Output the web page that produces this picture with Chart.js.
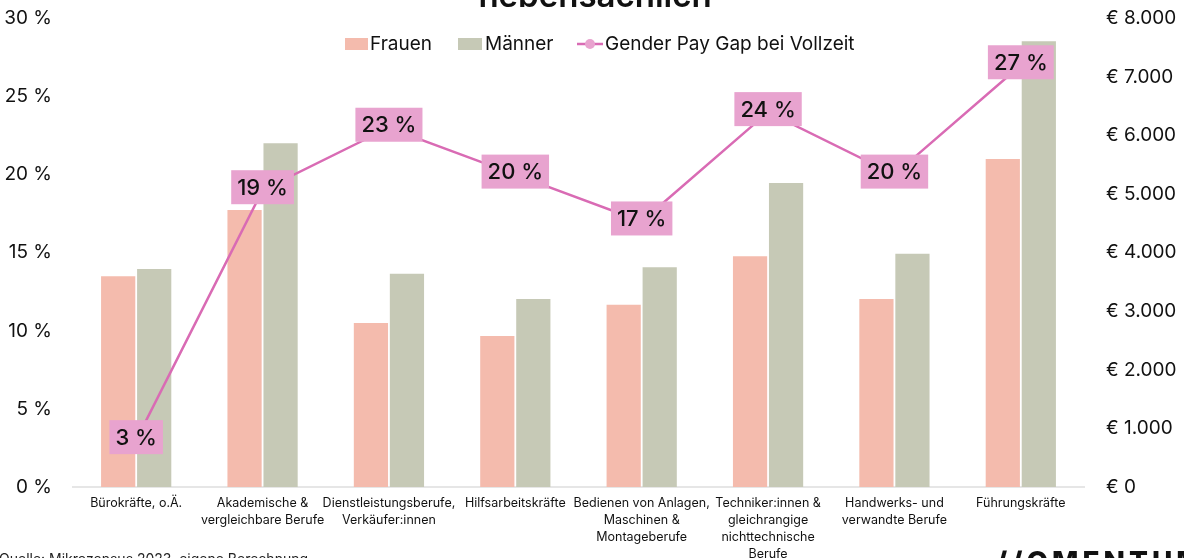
<!DOCTYPE html>
<html>
<head>
<meta charset="utf-8">
<script src="https://cdn.jsdelivr.net/npm/chart.js@4/dist/chart.umd.min.js"></script>
<style>
  html, body { margin: 0; padding: 0; background: #ffffff; overflow: hidden; }
  #wrap { width: 1184px; height: 558px; position: relative; }
</style>
</head>
<body>
<div id="wrap"><canvas id="c" width="1184" height="558"></canvas></div>
<script>
const categories = [
  ["Bürokräfte, o.Ä."],
  ["Akademische &", "vergleichbare Berufe"],
  ["Dienstleistungsberufe,", "Verkäufer:innen"],
  ["Hilfsarbeitskräfte"],
  ["Bedienen von Anlagen,", "Maschinen &", "Montageberufe"],
  ["Techniker:innen &", "gleichrangige", "nichttechnische", "Berufe"],
  ["Handwerks- und", "verwandte Berufe"],
  ["Führungskräfte"]
];
const frauen = [3600, 4730, 2800, 2580, 3110, 3940, 3210, 5600];
const maenner = [3720, 5870, 3640, 3210, 3750, 5190, 3980, 7610];
const payGap = [3, 19, 23, 20, 17, 24, 20, 27];
const leftTickLabels = ["0 %", "5 %", "10 %", "15 %", "20 %", "25 %", "30 %"];
const rightTickLabels = ["€ 0", "€ 1.000", "€ 2.000", "€ 3.000", "€ 4.000", "€ 5.000", "€ 6.000", "€ 7.000", "€ 8.000"];
const seriesNames = ["Frauen", "Männer", "Gender Pay Gap bei Vollzeit"];
const titleText = "nebensächlich";
const sourceText = "Quelle: Mikrozensus 2023, eigene Berechnung";
const logoText = "MOMENTUM";

const FONT = "Inter, 'DejaVu Sans', sans-serif";
const COL_F = "#f4bbad";
const COL_M = "#c6c9b6";
const COL_LINE = "#d96bb4";
const COL_BOX = "#e8a3cf";
const TXT = "#111111";

const extrasPlugin = {
  id: "extras",
  afterDatasetsDraw(chart) {
    const ctx = chart.ctx;
    const meta = chart.getDatasetMeta(2);
    ctx.save();
    ctx.font = "500 22px " + FONT;
    ctx.textAlign = "center";
    ctx.textBaseline = "middle";
    meta.data.forEach((pt, i) => {
      const label = payGap[i] + " %";
      const w = ctx.measureText(label).width + 12;
      const h = 34;
      ctx.fillStyle = COL_BOX;
      ctx.fillRect(pt.x - w / 2, pt.y - h / 2 - 3, w, h);
      ctx.fillStyle = TXT;
      ctx.fillText(label, pt.x, pt.y - 2);
    });
    ctx.restore();
  },
  afterDraw(chart) {
    const ctx = chart.ctx;
    ctx.save();
    ctx.fillStyle = TXT;
    ctx.font = "600 33px " + FONT;
    ctx.textAlign = "center";
    ctx.textBaseline = "alphabetic";
    ctx.fillText(titleText, 595, 7);
    const ly = 44;
    ctx.font = "400 19px " + FONT;
    ctx.textAlign = "left";
    ctx.textBaseline = "middle";
    ctx.fillStyle = COL_F;
    ctx.fillRect(345, ly - 6, 23, 12);
    ctx.fillStyle = TXT;
    ctx.fillText(seriesNames[0], 370, ly);
    ctx.fillStyle = COL_M;
    ctx.fillRect(458, ly - 6, 24, 12);
    ctx.fillStyle = TXT;
    ctx.fillText(seriesNames[1], 485, ly);
    ctx.strokeStyle = COL_LINE;
    ctx.lineWidth = 2.5;
    ctx.beginPath();
    ctx.moveTo(577, ly);
    ctx.lineTo(603, ly);
    ctx.stroke();
    ctx.fillStyle = COL_BOX;
    ctx.beginPath();
    ctx.arc(590, ly, 5, 0, Math.PI * 2);
    ctx.fill();
    ctx.fillStyle = TXT;
    ctx.fillText(seriesNames[2], 605, ly);
    ctx.font = "400 14px " + FONT;
    ctx.textBaseline = "alphabetic";
    ctx.fillStyle = "#222";
    ctx.fillText(sourceText, -1, 564);
    ctx.font = "800 28px " + FONT;
    ctx.letterSpacing = "4px";
    ctx.fillStyle = "#111";
    ctx.fillText("//" + logoText.slice(1), 996, 572);
    ctx.restore();
  }
};

new Chart(document.getElementById("c"), {
  type: "bar",
  data: {
    labels: categories,
    datasets: [
      { label: seriesNames[0], data: frauen, backgroundColor: COL_F, yAxisID: "yR", order: 2,
        categoryPercentage: 0.57, barPercentage: 0.95 },
      { label: seriesNames[1], data: maenner, backgroundColor: COL_M, yAxisID: "yR", order: 2,
        categoryPercentage: 0.57, barPercentage: 0.95 },
      { type: "line", label: seriesNames[2], data: payGap, borderColor: COL_LINE, borderWidth: 2.5,
        backgroundColor: COL_BOX, pointRadius: 0, tension: 0, yAxisID: "yL", order: 0 }
    ]
  },
  options: {
    responsive: false,
    animation: false,
    devicePixelRatio: 1,
    layout: { padding: { top: 0, left: 0, right: 0, bottom: 0 } },
    plugins: { legend: { display: false }, title: { display: false }, tooltip: { enabled: false } },
    scales: {
      x: {
        grid: { display: false, drawTicks: false },
        border: { display: true, color: "#e6e6e6", width: 2 },
        ticks: { color: TXT, font: { family: FONT, size: 12.5, lineHeight: 1.35 }, padding: 8, maxRotation: 0, autoSkip: false },
        afterFit(s) { s.height = 71; }
      },
      yL: {
        position: "left", min: 0, max: 30,
        grid: { display: false, drawTicks: true, tickLength: 14 },
        border: { display: false },
        ticks: { stepSize: 5, padding: 7, color: TXT, font: { family: FONT, size: 19 },
          callback: (v) => leftTickLabels[v / 5] },
        afterFit(s) { s.width = 73; }
      },
      yR: {
        position: "right", min: 0, max: 8000,
        grid: { display: false, drawTicks: true, tickLength: 15 },
        border: { display: false },
        ticks: { stepSize: 1000, padding: 7, color: TXT, font: { family: FONT, size: 19 },
          callback: (v) => rightTickLabels[v / 1000] },
        afterFit(s) { s.width = 100; }
      }
    }
  },
  plugins: [extrasPlugin]
});
</script>
</body>
</html>
